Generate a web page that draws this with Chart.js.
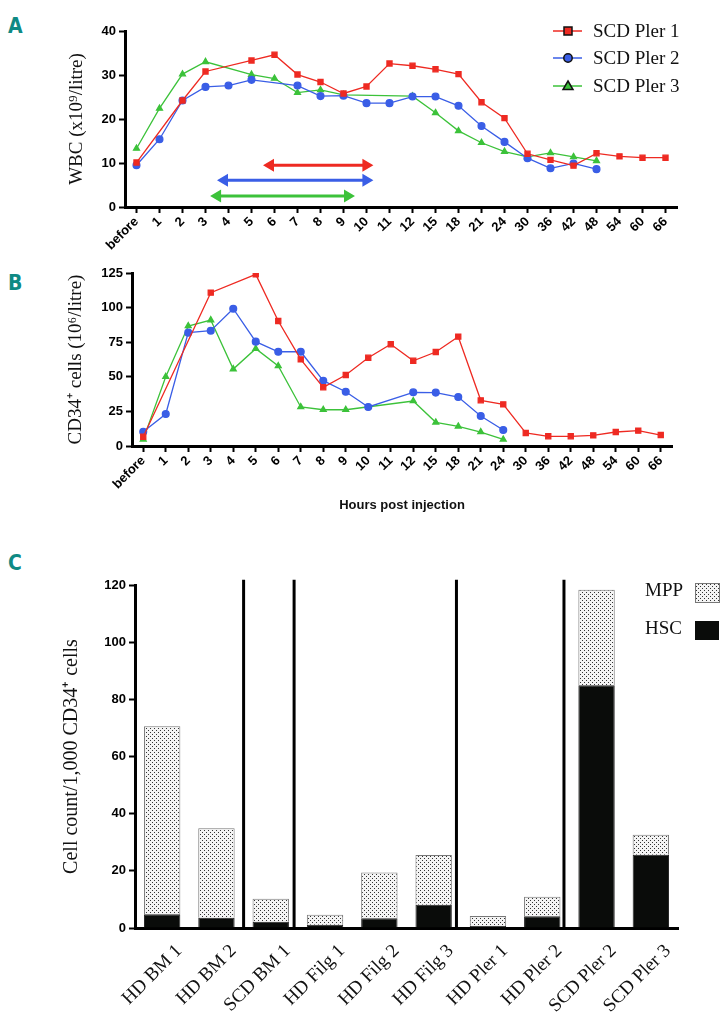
<!DOCTYPE html>
<html>
<head>
<meta charset="utf-8">
<script src="https://cdn.jsdelivr.net/npm/chart.js@4"></script>
<style>
  body { margin: 0; background: #fff; width: 725px; height: 1015px; overflow: hidden; position: relative; }
  canvas { position: absolute; left: 0; }
  .tag { position: absolute; left: 8px; color: #0f8a84; font: bold 21px "DejaVu Sans Condensed", "DejaVu Sans", sans-serif; }
</style>
</head>
<body>
<div class="tag" style="top:14px">A</div>
<div class="tag" style="top:271px">B</div>
<div class="tag" style="top:551px">C</div>
<canvas id="wbc" width="725" height="258" style="top:0"></canvas>
<canvas id="cd34" width="725" height="272" style="top:258px"></canvas>
<canvas id="cells" width="725" height="485" style="top:530px"></canvas>
<script>
// time points (hours post injection)
var hours = ['before', '1', '2', '3', '4', '5', '6', '7', '8', '9', '10', '11', '12',
             '15', '18', '21', '24', '30', '36', '42', '48', '54', '60', '66'];

// WBC (x10^9/litre)
var wbcPler1 = [10.1, null, 24.2, 30.8, null, 33.3, 34.6, 30.1, 28.4, 25.8, 27.4, 32.6, 32.1,
                31.3, 30.2, 23.8, 20.2, 12.1, 10.7, 9.4, 12.2, 11.5, 11.2, 11.2];
var wbcPler2 = [9.5, 15.4, 24.2, 27.3, 27.6, 28.9, null, 27.6, 25.2, 25.3, 23.6, 23.6, 25.1,
                25.1, 23.0, 18.4, 14.8, 11.1, 8.8, 9.9, 8.6, null, null, null];
var wbcPler3 = [13.3, 22.4, 30.2, 33.0, null, 30.1, 29.2, 26.0, 26.6, 25.5, null, null, 25.2,
                21.4, 17.3, 14.6, 12.6, 11.4, 12.3, 11.4, 10.5, null, null, null];

// plerixafor windows (in time-point index units) and their height on the WBC axis
var windowFrom = [5.5, 3.5, 3.2];
var windowTo = [10.3, 10.3, 9.5];
var windowLevel = [9.5, 6.1, 2.5];

// CD34+ cells (10^6/litre)
var cd34Pler1 = [6.7, null, null, 110.8, null, 124.0, 90.3, 62.6, 42.4, 51.3, 63.8, 73.5, 61.6,
                 67.9, 79.0, 33.0, 30.1, 9.4, 7.0, 7.0, 7.7, 10.1, 11.1, 7.9];
var cd34Pler2 = [10.3, 23.1, 81.9, 83.3, 99.2, 75.4, 68.1, 68.1, 47.2, 39.2, 28.2, null, 38.8,
                 38.6, 35.4, 21.7, 11.6, null, null, null, null, null, null, null];
var cd34Pler3 = [4.8, 50.1, 86.7, 91.0, 55.6, 70.3, 57.8, 28.2, 26.2, 26.2, null, null, 32.5,
                 17.1, 14.2, 10.1, 4.8, null, null, null, null, null, null, null];

// cell count per 1,000 CD34+ cells
var samples = ['HD BM 1', 'HD BM 2', 'SCD BM 1', 'HD Filg 1', 'HD Filg 2', 'HD Filg 3',
               'HD Pler 1', 'HD Pler 2', 'SCD Pler 2', 'SCD Pler 3'];
var hsc = [4.8, 3.6, 2.2, 1.1, 3.4, 8.1, 0.7, 4.1, 84.9, 25.6];
var mpp = [65.8, 31.3, 8.0, 3.5, 16.0, 17.4, 3.5, 6.8, 33.4, 7.0];
var dividers = [1.5, 2.43, 5.42, 7.4];

var seriesNames = ['SCD Pler 1', 'SCD Pler 2', 'SCD Pler 3'];
var seriesColors = ['#ee2a22', '#3a5ee6', '#3cc23a'];
var seriesShapes = ['rect', 'circle', 'triangle'];

var tickFont = { family: 'Liberation Sans, Arial, sans-serif', size: 13, weight: 'bold' };
var serif = 'Liberation Serif, Times New Roman, serif';

function lineSet(label, values, i) {
    return {
        label: label,
        data: values,
        borderColor: seriesColors[i],
        backgroundColor: seriesColors[i],
        pointBackgroundColor: seriesColors[i],
        pointBorderColor: seriesColors[i],
        pointStyle: seriesShapes[i],
        pointRadius: i == 0 ? 3.6 : 3.4,
        borderWidth: 1.3,
        spanGaps: true,
        tension: 0
    };
}

function xAxis(h, title) {
    return {
        type: 'category',
        offset: true,
        border: { display: true, width: 3, color: '#000' },
        grid: { drawOnChartArea: false, drawTicks: true, tickLength: 6, tickWidth: 2, tickColor: '#000' },
        ticks: { color: '#000', font: tickFont, autoSkip: false, maxRotation: 45, minRotation: 45, padding: 1 },
        title: title,
        afterFit: function(s) { s.height = h; }
    };
}

function yAxis(w, max, step, label, pad, size) {
    return {
        min: 0, max: max,
        border: { display: true, width: 3, color: '#000' },
        grid: { drawOnChartArea: false, drawTicks: true, tickLength: 6, tickWidth: 2, tickColor: '#000' },
        ticks: { stepSize: step, color: '#000', font: { family: tickFont.family, size: 13, weight: 'bold' }, padding: 3 },
        title: { display: true, text: label, color: '#111', font: { family: serif, size: size }, padding: { top: pad, bottom: 0 } },
        afterFit: function(s) { s.width = w; }
    };
}

// double headed arrows for panel A
var arrowPlugin = {
    id: 'arrows',
    afterDatasetsDraw: function(chart) {
        var ctx = chart.ctx, x = chart.scales.x, y = chart.scales.y;
        for (var i = 0; i < windowFrom.length; i++) {
            var x1 = x.getPixelForValue(windowFrom[i]);
            var x2 = x.getPixelForValue(windowTo[i]);
            var yy = y.getPixelForValue(windowLevel[i]);
            ctx.save();
            ctx.strokeStyle = seriesColors[i];
            ctx.fillStyle = seriesColors[i];
            ctx.lineWidth = 3;
            ctx.beginPath();
            ctx.moveTo(x1 + 8, yy);
            ctx.lineTo(x2 - 8, yy);
            ctx.stroke();
            ctx.beginPath();
            ctx.moveTo(x1, yy); ctx.lineTo(x1 + 11, yy - 6.5); ctx.lineTo(x1 + 11, yy + 6.5); ctx.closePath();
            ctx.moveTo(x2, yy); ctx.lineTo(x2 - 11, yy - 6.5); ctx.lineTo(x2 - 11, yy + 6.5); ctx.closePath();
            ctx.fill();
            ctx.restore();
        }
    }
};

var lineLegend = {
    id: 'lineLegend',
    afterDraw: function(chart) {
        var ctx = chart.ctx;
        var rows = [31, 58, 86];
        ctx.save();
        for (var i = 0; i < seriesNames.length; i++) {
            var yy = rows[i];
            ctx.strokeStyle = seriesColors[i];
            ctx.lineWidth = 1.5;
            ctx.beginPath(); ctx.moveTo(553, yy); ctx.lineTo(582, yy); ctx.stroke();
            ctx.fillStyle = seriesColors[i];
            ctx.strokeStyle = '#111';
            ctx.lineWidth = 1.5;
            ctx.beginPath();
            if (i == 0) ctx.rect(564, yy - 4, 8, 8);
            else if (i == 1) ctx.arc(568, yy, 4.2, 0, Math.PI * 2);
            else { ctx.moveTo(568, yy - 5); ctx.lineTo(573, yy + 3.5); ctx.lineTo(563, yy + 3.5); ctx.closePath(); }
            ctx.fill(); ctx.stroke();
            ctx.fillStyle = '#111';
            ctx.font = '19px ' + serif;
            ctx.textBaseline = 'middle';
            ctx.fillText(seriesNames[i], 593, yy + 1);
        }
        ctx.restore();
    }
};

new Chart(document.getElementById('wbc'), {
    type: 'line',
    data: {
        labels: hours,
        datasets: [lineSet(seriesNames[0], wbcPler1, 0), lineSet(seriesNames[1], wbcPler2, 1), lineSet(seriesNames[2], wbcPler3, 2)]
    },
    options: {
        responsive: false,
        animation: false,
        layout: { padding: { left: 0, top: 31, right: 48, bottom: 0 } },
        plugins: { legend: { display: false }, tooltip: { enabled: false } },
        scales: {
            x: xAxis(51, { display: false }),
            y: yAxis(125, 40, 10, 'WBC (x10\u2079/litre)', 66, 19)
        }
    },
    plugins: [arrowPlugin, lineLegend]
});

new Chart(document.getElementById('cd34'), {
    type: 'line',
    data: {
        labels: hours,
        datasets: [lineSet(seriesNames[0], cd34Pler1, 0), lineSet(seriesNames[1], cd34Pler2, 1), lineSet(seriesNames[2], cd34Pler3, 2)]
    },
    options: {
        responsive: false,
        animation: false,
        layout: { padding: { left: 0, top: 15, right: 53, bottom: 0 } },
        plugins: { legend: { display: false }, tooltip: { enabled: false } },
        scales: {
            x: xAxis(84, { display: true, text: 'Hours post injection', color: '#111',
                           font: { family: tickFont.family, size: 13, weight: 'bold' }, padding: { top: 0, bottom: 17 } }),
            y: yAxis(132, 125, 25, 'CD34\u207a cells (10\u2076/litre)', 65, 19)
        }
    }
});

// dotted fill for MPP
function dotPattern() {
    var c = document.createElement('canvas');
    c.width = 4; c.height = 4;
    var g = c.getContext('2d');
    g.fillStyle = '#f4f4f4'; g.fillRect(0, 0, 4, 4);
    g.fillStyle = '#333';
    g.fillRect(0, 0, 1, 1);
    g.fillRect(2, 2, 1, 1);
    return g.createPattern(c, 'repeat');
}
var dots = dotPattern();

var dividerPlugin = {
    id: 'dividers',
    afterDatasetsDraw: function(chart) {
        var ctx = chart.ctx, x = chart.scales.x, y = chart.scales.y;
        ctx.save();
        ctx.strokeStyle = '#000';
        ctx.lineWidth = 3;
        dividers.forEach(function(d) {
            var xx = x.getPixelForValue(d);
            ctx.beginPath();
            ctx.moveTo(xx, y.getPixelForValue(121.8));
            ctx.lineTo(xx, y.getPixelForValue(0));
            ctx.stroke();
        });
        ctx.restore();
    }
};

var barLegend = {
    id: 'barLegend',
    afterDraw: function(chart) {
        var ctx = chart.ctx;
        ctx.save();
        ctx.font = '19px ' + serif;
        ctx.textBaseline = 'middle';
        ctx.fillStyle = '#111';
        ctx.fillText('MPP', 645, 61);
        ctx.fillText('HSC', 645, 99);
        ctx.fillStyle = dots;
        ctx.fillRect(695, 53, 24, 19);
        ctx.strokeStyle = '#777';
        ctx.lineWidth = 1;
        ctx.strokeRect(695.5, 53.5, 24, 19);
        ctx.fillStyle = '#0a0c0a';
        ctx.fillRect(695, 91, 24, 19);
        ctx.restore();
    }
};

new Chart(document.getElementById('cells'), {
    type: 'bar',
    data: {
        labels: samples,
        datasets: [
            { label: 'HSC', data: hsc, backgroundColor: '#0a0c0a', borderColor: '#222', borderWidth: 1 },
            { label: 'MPP', data: mpp, backgroundColor: dots, borderColor: '#777', borderWidth: 1 }
        ]
    },
    options: {
        responsive: false,
        animation: false,
        layout: { padding: { left: 0, top: 55, right: 47, bottom: 0 } },
        plugins: { legend: { display: false }, tooltip: { enabled: false } },
        datasets: { bar: { barPercentage: 0.67, categoryPercentage: 1 } },
        scales: {
            x: {
                stacked: true,
                border: { display: true, width: 3, color: '#000' },
                grid: { display: false },
                ticks: { color: '#111', font: { family: serif, size: 19 }, autoSkip: false, maxRotation: 45, minRotation: 45, padding: 4, labelOffset: 17 },
                afterFit: function(s) { s.height = 87; }
            },
            y: Object.assign(yAxis(135, 120, 20, 'Cell count/1,000 CD34\u207a cells', 60, 20), { stacked: true })
        }
    },
    plugins: [dividerPlugin, barLegend]
});
</script>
</body>
</html>
